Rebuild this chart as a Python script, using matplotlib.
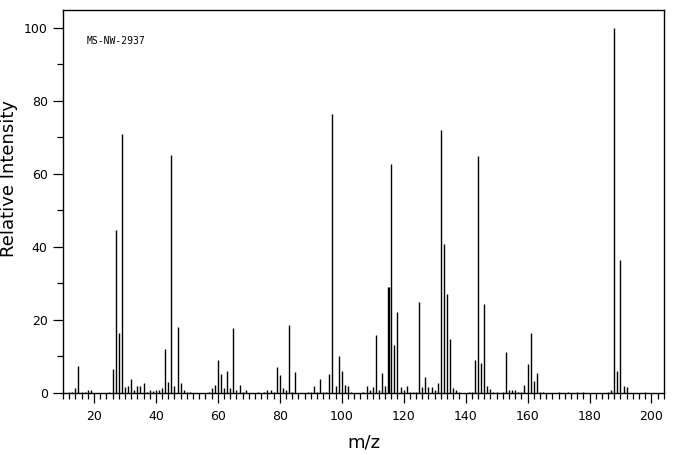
import numpy as np
import matplotlib
matplotlib.use("Agg")
import matplotlib.pyplot as plt
from matplotlib.ticker import MultipleLocator

# m/z values and relative intensities
mz = [12, 13, 14, 15, 16, 17, 18, 19,
      25, 26, 27, 28, 29, 30, 31, 32, 33, 34, 35, 36, 37, 38, 39, 40,
      41, 42, 43, 44, 45, 46, 47, 48, 49, 50, 51,
      57, 58, 59, 60, 61, 62, 63, 64, 65, 66, 67, 68, 69,
      73, 75, 76, 77, 78, 79, 80, 81, 82, 83, 84, 85,
      89, 90, 91, 92, 93, 94, 95, 96, 97, 98, 99, 100, 101, 102, 103,
      107, 108, 109, 110, 111, 112, 113, 114, 115, 116, 117, 118, 119,
      120, 121, 122, 123, 124, 125, 126, 127, 128, 129, 130, 131, 132,
      133, 134, 135, 136, 137, 138,
      141, 142, 143, 144, 145, 146, 147, 148, 149, 150,
      152, 153, 154, 155, 156, 157, 158, 159, 160, 161, 162, 163, 164, 165,
      170, 173, 176, 178, 186, 187, 188, 189, 190, 191, 192, 198]
intensity = [0.4, 0.4, 1.5, 7.5, 0.4, 0.4, 0.9, 0.9,
             0.4, 6.7, 44.5, 16.3, 70.8, 1.6, 2.0, 3.9, 0.9, 1.8, 1.8, 2.6, 0.4, 0.9, 0.5, 0.7,
             0.7, 1.5, 12.1, 2.9, 65.1, 2.0, 18.2, 2.6, 0.9, 0.4, 0.4,
             0.4, 1.5, 2.3, 9.1, 5.3, 1.5, 6.1, 1.3, 17.9, 0.9, 2.3, 0.4, 0.9,
             0.4, 0.4, 0.7, 0.7, 0.4, 7.2, 5.0, 1.3, 0.7, 18.5, 0.4, 5.8,
             0.4, 0.4, 1.8, 0.4, 3.7, 0.4, 0.4, 5.3, 76.5, 2.0, 10.0, 6.1, 2.3, 2.0, 0.4,
             0.4, 1.8, 0.9, 1.6, 16.0, 0.7, 5.6, 2.0, 29.1, 62.6, 13.2, 22.3, 1.7,
             0.9, 2.0, 0.4, 0.4, 0.4, 25.0, 1.7, 4.5, 1.7, 1.7, 0.9, 2.6, 71.9,
             40.9, 27.0, 14.9, 1.5, 0.9, 0.4,
             0.4, 0.4, 8.9, 64.8, 8.3, 24.5, 2.0, 1.2, 0.4, 0.4,
             0.4, 11.1, 0.9, 0.9, 0.7, 0.4, 0.4, 2.3, 7.8, 16.3, 3.4, 5.6, 0.4, 0.4,
             0.4, 0.4, 0.4, 0.4, 0.4, 0.9, 100.0, 6.1, 36.3, 2.0, 1.7, 0.4]

fig = plt.figure(figsize=(6.76, 4.55), dpi=100)
ax = fig.add_axes([0.0932, 0.1363, 0.8888, 0.8428])

ax.vlines(mz, 0, intensity, colors="black", linewidth=1.0)
# the 115 peak is drawn double width in the original
ax.vlines([115.3], 0, [29.1], colors="black", linewidth=1.0)

ax.set_xlim(10, 204)
ax.set_ylim(0, 105)
ax.xaxis.set_major_locator(MultipleLocator(20))
ax.xaxis.set_minor_locator(MultipleLocator(2))
ax.yaxis.set_major_locator(MultipleLocator(20))
ax.yaxis.set_minor_locator(MultipleLocator(10))
ax.tick_params(which="major", direction="out", length=7.5, width=0.9, labelsize=9)
ax.tick_params(which="minor", direction="out", length=4, width=0.9)
ax.tick_params(axis="x", which="major", pad=5)
ax.tick_params(axis="y", which="major", pad=3.5)

for s in ax.spines.values():
    s.set_linewidth(1)

ax.set_xlabel("m/z", fontsize=13)
ax.xaxis.label.set_va("baseline")
ax.xaxis.set_label_coords(0.5, -0.143)
ax.set_ylabel("Relative Intensity", fontsize=13)
ax.yaxis.label.set_va("center")
ax.yaxis.set_label_coords(-0.09, 0.56)
ax.text(0.04, 0.909, "MS-NW-2937", transform=ax.transAxes, fontsize=7,
        family="DejaVu Sans Mono", va="baseline")

fig.savefig("out.png", dpi=100)
